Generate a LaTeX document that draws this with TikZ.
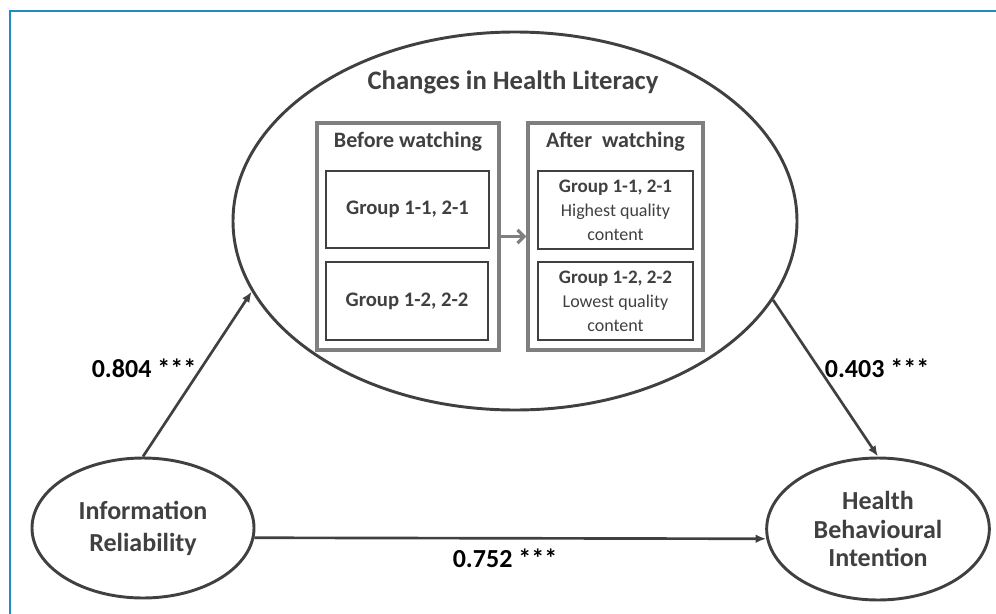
\documentclass[tikz,border=0pt]{standalone}
\usepackage{fontspec}
\setmainfont{Carlito}
\usetikzlibrary{shapes.geometric,arrows.meta}
\definecolor{txt}{HTML}{404040}
\definecolor{ln}{HTML}{404040}
\definecolor{boxg}{HTML}{7F7F7F}
\definecolor{blueb}{HTML}{1E8BC3}
\tikzset{
  oval/.style={ellipse, draw=ln, line width=2.2pt, inner sep=0pt, align=center, text=txt, font=\bfseries\fontsize{19.5pt}{24pt}\selectfont},
  outerbox/.style={rectangle, draw=boxg, line width=2.4pt, inner sep=0pt},
  innerbox/.style={rectangle, draw=ln, line width=1.9pt, inner sep=0pt, align=center, text=txt},
  conn/.style={draw=ln, line width=2pt, -{Latex[length=8pt,width=6.5pt]}},
  coef/.style={font=\bfseries\fontsize{19.5pt}{24pt}\selectfont, text=black},
  hdr/.style={font=\bfseries\fontsize{16.5pt}{20pt}\selectfont, text=txt},
}
\begin{document}
\begin{tikzpicture}[x=0.75pt,y=-0.75pt]
\useasboundingbox (0,0) rectangle (996,614);
% blue frame
\coordinate (fb) at (10,614);
\coordinate (ft) at (10,11);
\coordinate (fr) at (996,11);
\draw[blueb, line width=1.5pt] (fb) -- (ft) -- (fr);

% main ellipses
\node[oval, minimum width=423pt, minimum height=283.5pt] (hl) at (515,221) {};
\node[font=\bfseries\fontsize{20pt}{24pt}\selectfont, text=txt] (title) at (513,82) {Changes in Health Literacy};
\node[oval, minimum width=166.5pt, minimum height=105pt, font=\bfseries\fontsize{19.5pt}{24pt}\selectfont] (ir) at (143,528) {Information\\Reliability};
\node[oval, minimum width=167pt, minimum height=106.5pt, font=\bfseries\fontsize{19.5pt}{21.4pt}\selectfont] (hb) at (878,529) {Health\\Behavioural\\Intention};

% outer boxes
\node[outerbox, minimum width=136.5pt, minimum height=170.25pt] (before) at (408,236.5) {};
\node[outerbox, minimum width=131.25pt, minimum height=170.25pt] (after) at (615.5,236.5) {};
\node[hdr] (bt) at (408,142) {Before watching};
\node[hdr] (at) at (615.5,142) {After\ \ watching};

% inner boxes
\node[innerbox, minimum width=122.25pt, minimum height=57.75pt, font=\bfseries\fontsize{15.5pt}{18pt}\selectfont] (b1) at (407.5,209.5) {Group 1-1, 2-1};
\node[innerbox, minimum width=121.5pt, minimum height=58.5pt, font=\bfseries\fontsize{15.5pt}{18pt}\selectfont] (b2) at (407,301) {Group 1-2, 2-2};
\node[innerbox, minimum width=116.25pt, minimum height=58.5pt, font=\fontsize{13.5pt}{18pt}\selectfont] (a1) at (615.5,210) {{\bfseries\fontsize{14.3pt}{18pt}\selectfont Group 1-1, 2-1}\\Highest quality\\content};
\node[innerbox, minimum width=116.25pt, minimum height=58.5pt, font=\fontsize{13.5pt}{18pt}\selectfont] (a2) at (615.5,301) {{\bfseries\fontsize{14.3pt}{18pt}\selectfont Group 1-2, 2-2}\\Lowest quality\\content};

% gray arrow between groups
\draw[draw=boxg, line width=2.4pt, -{Straight Barb[length=5pt,width=10pt]}] (before.east) -- (after.west);

% connectors
\draw[conn] (ir.north) -- (hl.195);
\draw[conn] (hl.343) -- (hb.north);
\draw[conn] (ir.-5) -- (hb.185);

% coefficients
\node[coef] (c1) at (144,368) {0.804 ***};
\node[coef] (c2) at (877,368) {0.403 ***};
\node[coef] (c3) at (505,558) {0.752 ***};
\end{tikzpicture}
\end{document}
